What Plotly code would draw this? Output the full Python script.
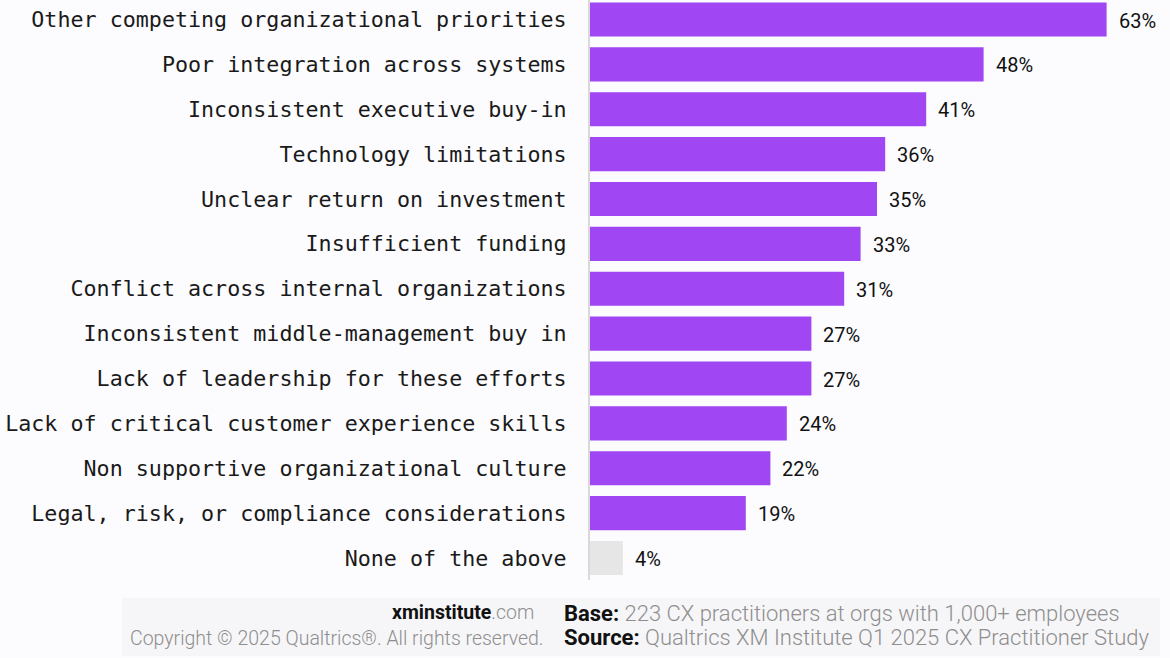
import plotly.graph_objects as go

categories = [
    "Other competing organizational priorities",
    "Poor integration across systems",
    "Inconsistent executive buy-in",
    "Technology limitations",
    "Unclear return on investment",
    "Insufficient funding",
    "Conflict across internal organizations",
    "Inconsistent middle-management buy in",
    "Lack of leadership for these efforts",
    "Lack of critical customer experience skills",
    "Non supportive organizational culture",
    "Legal, risk, or compliance considerations",
    "None of the above",
]
values = [63, 48, 41, 36, 35, 33, 31, 27, 27, 24, 22, 19, 4]
bar_colors = ["#a046f2"] * 12 + ["#e6e6e6"]

W, H = 1170, 658
L, R, T, B = 590, 10, 0, 78
PW, PH = W - L - R, H - T - B

def px(x):
    return (x - L) / PW

def py(y):
    return (H - B - y) / PH

fig = go.Figure()
fig.add_trace(go.Bar(
    x=values, y=categories, orientation="h",
    marker=dict(color=bar_colors, line=dict(width=0)),
    width=0.76, hoverinfo="skip",
))

for c, v in zip(categories, values):
    fig.add_annotation(
        x=v, y=c, xref="x", yref="y", text=f"{v}%", showarrow=False,
        xanchor="left", xshift=10, yshift=-1,
        font=dict(family="Roboto", size=20, color="#111"),
    )

# footer box
fig.add_shape(type="rect", xref="paper", yref="paper",
              x0=px(122), x1=px(1160), y0=py(598), y1=py(656),
              fillcolor="#f6f6f8", line=dict(width=0), layer="below")

light = dict(family="Roboto", size=19.5, color="#8e8e8e", weight=300)
light2 = dict(family="Roboto", size=22, color="#8e8e8e", weight=300)
fig.add_annotation(xref="paper", yref="paper", x=px(536), y=py(612),
                   xanchor="right", yanchor="middle", showarrow=False,
                   text="<b><span style='color:#111'>xminstitute</span></b>.com",
                   font=light)
fig.add_annotation(xref="paper", yref="paper", x=px(546), y=py(638),
                   xanchor="right", yanchor="middle", showarrow=False,
                   text="Copyright © 2025 Qualtrics®. All rights reserved.",
                   font=light)
fig.add_annotation(xref="paper", yref="paper", x=px(562), y=py(613),
                   xanchor="left", yanchor="middle", showarrow=False,
                   text="<b><span style='color:#111'>Base:</span></b> 223 CX practitioners at orgs with 1,000+ employees",
                   font=light2)
fig.add_annotation(xref="paper", yref="paper", x=px(562), y=py(637),
                   xanchor="left", yanchor="middle", showarrow=False,
                   text="<b><span style='color:#111'>Source:</span></b> Qualtrics XM Institute Q1 2025 CX Practitioner Study",
                   font=light2)

fig.update_layout(
    width=W, height=H,
    margin=dict(l=L, r=R, t=T, b=B, pad=0),
    paper_bgcolor="#fcfcfe", plot_bgcolor="#fcfcfe",
    showlegend=False,
    xaxis=dict(range=[0, PW / 8.2], visible=False, fixedrange=True),
    yaxis=dict(
        range=[12.49, -0.435], showgrid=False, zeroline=False,
        showline=True, linecolor="#d9d9d9", linewidth=2,
        ticks="", ticklabelstandoff=17,
        tickfont=dict(family="DejaVu Sans Mono", size=21.7, color="#1a1a1a"),
        fixedrange=True,
    ),
)

fig.write_html("out.html")
